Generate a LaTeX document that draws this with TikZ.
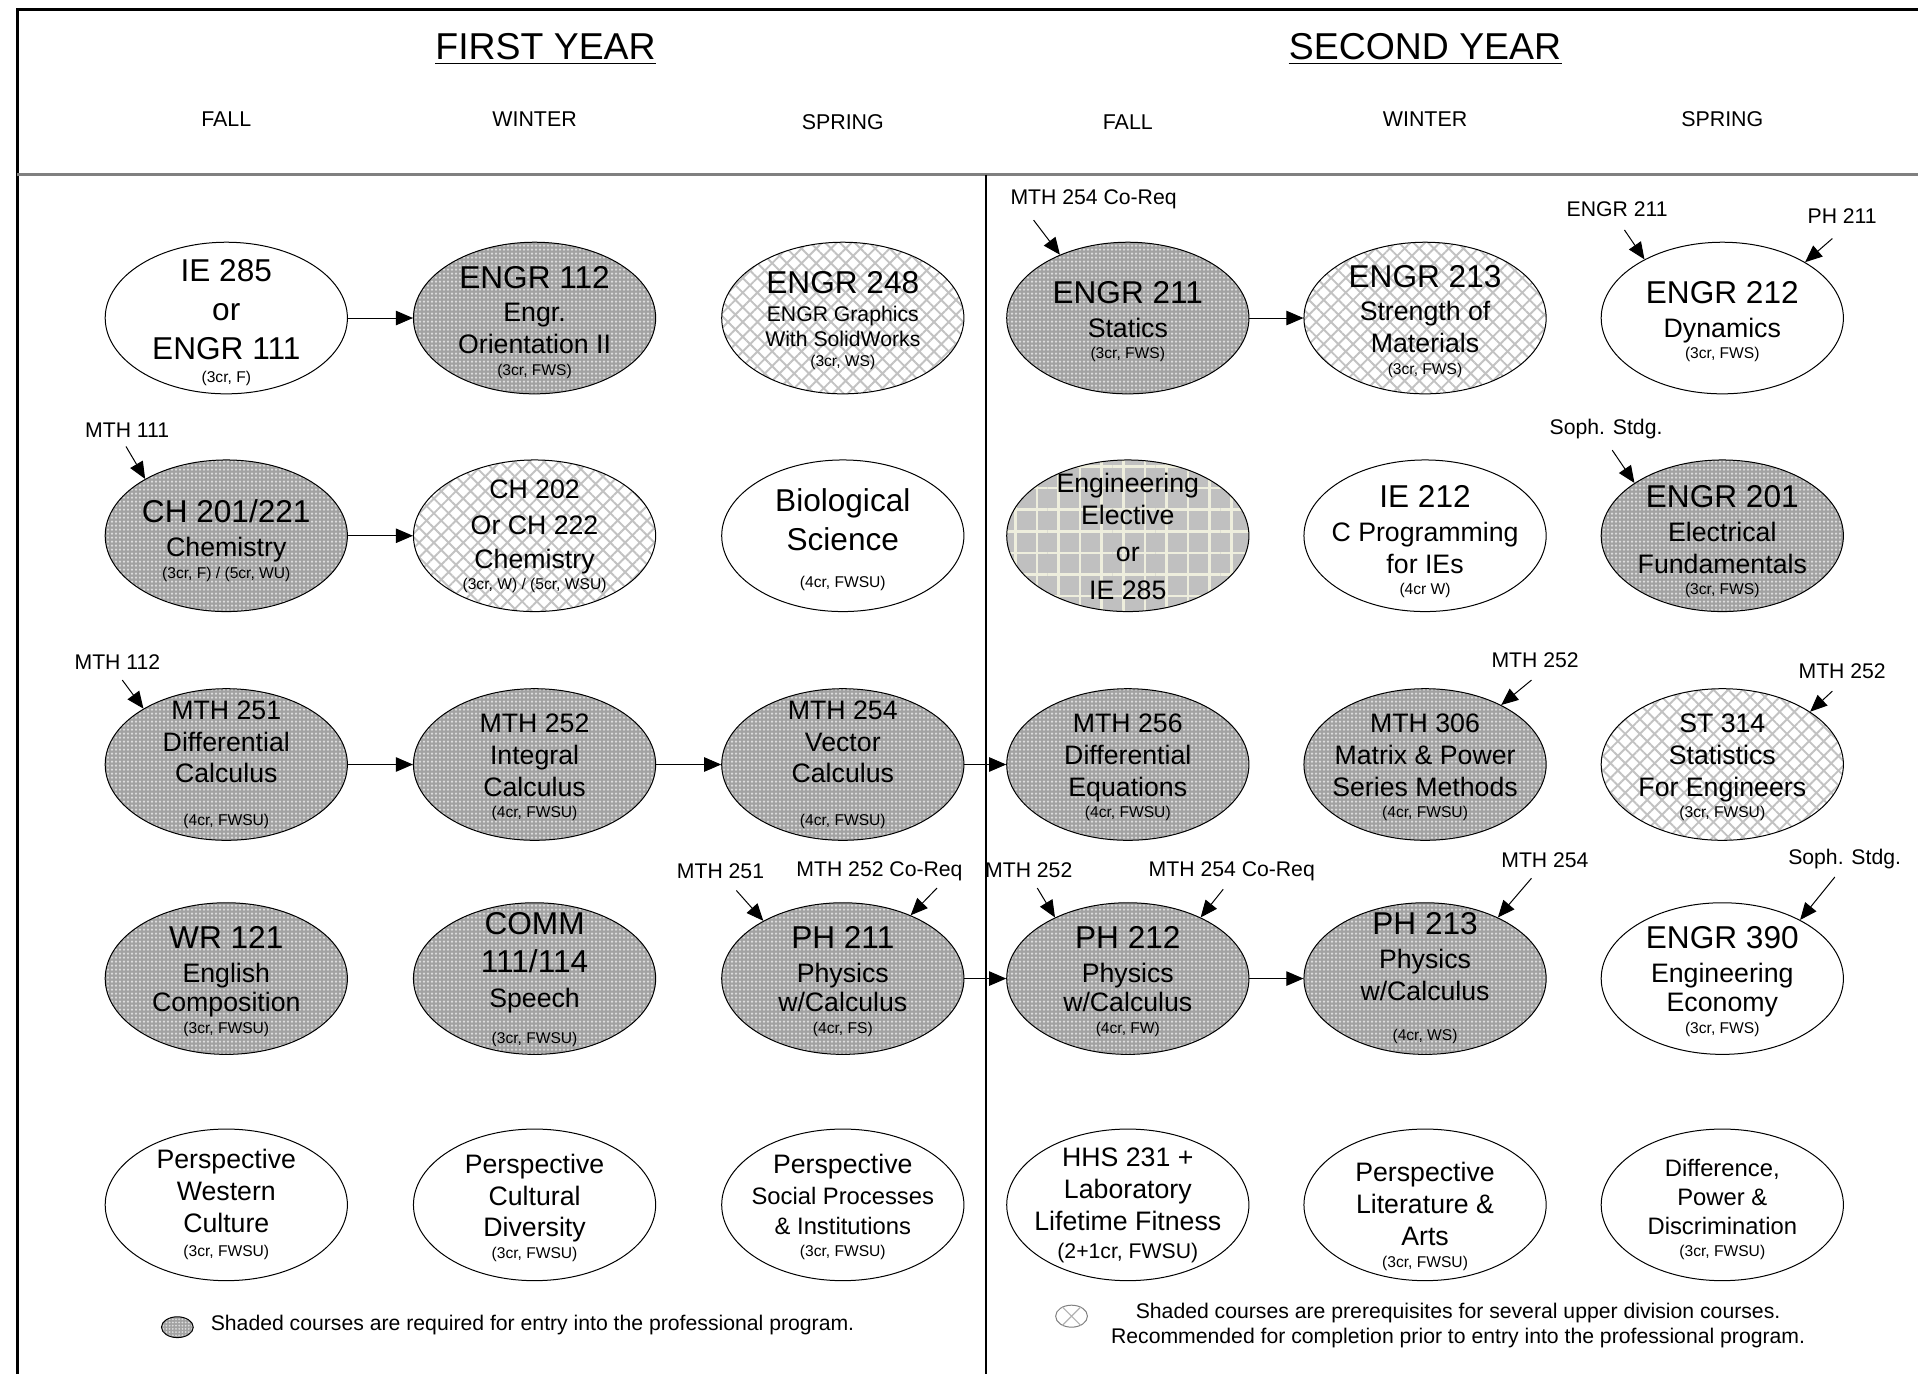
\documentclass[tikz,border=0pt]{standalone}
\usepackage{fontspec}
\setmainfont{Liberation Sans}
\usetikzlibrary{patterns.meta,arrows.meta,shapes.geometric}
\definecolor{dotbase}{HTML}{A2A2A2}
\definecolor{dotcol}{HTML}{DCDCDC}
\definecolor{hatchcol}{HTML}{C2C2C2}
\definecolor{gridbase}{HTML}{C0C0C0}
\definecolor{gridcol}{HTML}{EEEEDD}
\newcommand\fsL{\fontsize{15.8pt}{15.9pt}\selectfont}
\newcommand\fsM{\fontsize{13.35pt}{15.9pt}\selectfont}
\newcommand\fsK{\fontsize{11.9pt}{15.9pt}\selectfont}
\newcommand\fsG{\fontsize{10.6pt}{15.9pt}\selectfont}
\newcommand\fsS{\fontsize{7.8pt}{15.9pt}\selectfont}
\newcommand\fsH{\fontsize{18.7pt}{20pt}\selectfont}
\begin{document}
\begin{tikzpicture}[x=0.6116pt,y=-0.6116pt,
  course/.style={ellipse, draw, line width=0.5pt, minimum width=121.1pt, minimum height=75.8pt, inner sep=0pt},
  plain/.style={course, fill=white},
  req/.style={course, preaction={fill=dotbase}, pattern={Dots[distance=2pt, radius=0.62pt]}, pattern color=dotcol},
  prq/.style={course, preaction={fill=white}, pattern={Hatch[angle=45, distance=5.2pt, line width=0.95pt]}, pattern color=hatchcol},
  elect/.style={course, preaction={fill=gridbase}, pattern={Hatch[angle=0, distance=10.8pt, line width=1.3pt]}, pattern color=gridcol},
  txt/.style={align=center, inner sep=0pt, font=\fsM},
  lab/.style={font=\fsG, inner sep=0pt},
  season/.style={font=\fontsize{10.7pt}{12pt}\selectfont, inner sep=0pt},
  arr/.style={-{Triangle[length=8.5pt,width=7.2pt]}, line width=0.5pt}]
\useasboundingbox[fill=white] (0,0) rectangle (1568,1123);
% frame
\draw[line width=1.5pt] (14,1123) -- (14,8) -- (1568,8);
\draw[line width=1.5pt, gray] (14,143) -- (1568,143);
\draw[line width=0.7pt] (806,143) -- (806,1123);
% headers
\node[font=\fsH, inner sep=0pt, anchor=base] (h1) at (446,49) {FIRST YEAR};
\draw[line width=0.9pt] ([yshift=-1.8pt]h1.base west) -- ([yshift=-1.8pt]h1.base east);
\node[font=\fsH, inner sep=0pt, anchor=base] (h2) at (1165,49) {SECOND YEAR};
\draw[line width=0.9pt] ([yshift=-1.8pt]h2.base west) -- ([yshift=-1.8pt]h2.base east);
\node[season] (s1) at (185,97) {FALL};
\node[season] (s2) at (437,97) {WINTER};
\node[season] (s3) at (689,100) {SPRING};
\node[season] (s4) at (922,100) {FALL};
\node[season] (s5) at (1165,97) {WINTER};
\node[season] (s6) at (1408,97) {SPRING};
% row 1
\node[plain] (ie285) at (185,260) {};
\node[txt] (ie285t) at (185,264) {\fsL IE 285\\[3.4pt]\fsL or\\[3.4pt]\fsL ENGR 111\\[-4.1pt]\fsS (3cr, F)};
\node[req] (engr112) at (437,260) {};
\node[txt] (engr112t) at (437,263.5) {\fsL ENGR 112\\[0.9pt]\fsM Engr.\\\fsM Orientation II\\[-5.1pt]\fsS (3cr, FWS)};
\node[prq] (engr248) at (689,260) {};
\node[txt] (engr248t) at (689,262) {\fsL ENGR 248\\[-1.9pt]\fsG ENGR Graphics\\[-3.1pt]\fsG With SolidWorks\\[-5.9pt]\fsS (3cr, WS)};
\node[req] (engr211) at (922,260) {};
\node[txt] (engr211t) at (922,263) {\fsL ENGR 211\\[0.9pt]\fsM Statics\\[-5.1pt]\fsS (3cr, FWS)};
\node[prq] (engr213) at (1165,260) {};
\node[txt] (engr213t) at (1165,262.5) {\fsL ENGR 213\\[0.9pt]\fsM Strength of\\\fsM Materials\\[-5.1pt]\fsS (3cr, FWS)};
\node[plain] (engr212) at (1408,260) {};
\node[txt] (engr212t) at (1408,263) {\fsL ENGR 212\\[0.9pt]\fsM Dynamics\\[-5.1pt]\fsS (3cr, FWS)};
% row 2
\node[req] (ch201) at (185,438) {};
\node[txt] (ch201t) at (185,442) {\fsL CH 201/221\\[0.9pt]\fsM Chemistry\\[-5.1pt]\fsS (3cr, F) / (5cr, WU)};
\node[prq] (ch202) at (437,438) {};
\node[txt] (ch202t) at (437,438.5) {\fsM CH 202\\[2pt]\fsM Or CH 222\\[1pt]\fsM Chemistry\\[-5.1pt]\fsS (3cr, W) / (5cr, WSU)};
\node[plain] (bio) at (689,438) {};
\node[txt] (biot) at (689,441) {\fsL Biological\\[3.4pt]\fsL Science\\[2.6pt]\fsS (4cr, FWSU)};
\node[elect] (elective) at (922,438) {};
\node[txt] (electivet) at (922,438.5) {\fsM Engineering\\\fsM Elective\\[2.5pt]\fsM or\\[3pt]\fsM IE 285};
\node[plain] (ie212) at (1165,438) {};
\node[txt] (ie212t) at (1165,443) {\fsL IE 212\\[0.9pt]\fsM C Programming\\\fsM for IEs\\[-5.1pt]\fsS (4cr W)};
\node[req] (engr201) at (1408,438) {};
\node[txt] (engr201t) at (1408,443) {\fsL ENGR 201\\[0.9pt]\fsM Electrical\\\fsM Fundamentals\\[-5.1pt]\fsS (3cr, FWS)};
% row 3
\node[req] (mth251) at (185,625) {};
\node[txt] (mth251t) at (185,625) {\fsM MTH 251\\\fsM Differential\\\fsM Calculus\\[5.3pt]\fsS (4cr, FWSU)};
\node[req] (mth252) at (437,625) {};
\node[txt] (mth252t) at (437,627.5) {\fsM MTH 252\\\fsM Integral\\\fsM Calculus\\[-5.1pt]\fsS (4cr, FWSU)};
\node[req] (mth254) at (689,625) {};
\node[txt] (mth254t) at (689,625) {\fsM MTH 254\\\fsM Vector\\\fsM Calculus\\[5.3pt]\fsS (4cr, FWSU)};
\node[req] (mth256) at (922,625) {};
\node[txt] (mth256t) at (922,627.5) {\fsM MTH 256\\\fsM Differential\\\fsM Equations\\[-5.1pt]\fsS (4cr, FWSU)};
\node[req] (mth306) at (1165,625) {};
\node[txt] (mth306t) at (1165,627.5) {\fsM MTH 306\\\fsM Matrix \& Power\\\fsM Series Methods\\[-5.1pt]\fsS (4cr, FWSU)};
\node[prq] (st314) at (1408,625) {};
\node[txt] (st314t) at (1408,627.5) {\fsM ST 314\\\fsM Statistics\\\fsM For Engineers\\[-5.1pt]\fsS (3cr, FWSU)};
% row 4
\node[req] (wr121) at (185,800) {};
\node[txt] (wr121t) at (185,802.5) {\fsL WR 121\\[0.9pt]\fsM English\\[-1pt]\fsM Composition\\[-5.1pt]\fsS (3cr, FWSU)};
\node[req] (comm) at (437,800) {};
\node[txt] (commt) at (437,800.5) {\fsL COMM\\[3.4pt]\fsL 111/114\\[1.6pt]\fsM Speech\\[1.7pt]\fsS (3cr, FWSU)};
\node[req] (ph211) at (689,800) {};
\node[txt] (ph211t) at (689,802.5) {\fsL PH 211\\[0.9pt]\fsM Physics\\[-1pt]\fsM w/Calculus\\[-5.1pt]\fsS (4cr, FS)};
\node[req] (ph212) at (922,800) {};
\node[txt] (ph212t) at (922,802.5) {\fsL PH 212\\[0.9pt]\fsM Physics\\[-1pt]\fsM w/Calculus\\[-5.1pt]\fsS (4cr, FW)};
\node[req] (ph213) at (1165,800) {};
\node[txt] (ph213t) at (1165,799.5) {\fsL PH 213\\[0.9pt]\fsM Physics\\\fsM w/Calculus\\[4.1pt]\fsS (4cr, WS)};
\node[plain] (engr390) at (1408,800) {};
\node[txt] (engr390t) at (1408,802.5) {\fsL ENGR 390\\[0.9pt]\fsM Engineering\\[-1pt]\fsM Economy\\[-5.1pt]\fsS (3cr, FWS)};
% row 5
\node[plain] (persp1) at (185,985) {};
\node[txt] (persp1t) at (185,984.5) {\fsM Perspective\\\fsM Western\\\fsM Culture\\[-3.8pt]\fsS (3cr, FWSU)};
\node[plain] (persp2) at (437,985) {};
\node[txt] (persp2t) at (437,987.5) {\fsM Perspective\\\fsM Cultural\\\fsM Diversity\\[-5.1pt]\fsS (3cr, FWSU)};
\node[plain] (persp3) at (689,985) {};
\node[txt] (persp3t) at (689,986.5) {\fsM Perspective\\[-0.5pt]\fsK Social Processes\\[-0.6pt]\fsK \& Institutions\\[-5.2pt]\fsS (3cr, FWSU)};
\node[plain] (hhs) at (922,985) {};
\node[txt] (hhst) at (922,985.5) {\fsM HHS 231 +\\\fsM Laboratory\\\fsM Lifetime Fitness\\[-1.6pt]\fsG (2+1cr, FWSU)};
\node[plain] (persp4) at (1165,985) {};
\node[txt] (persp4t) at (1165,994.5) {\fsM Perspective\\\fsM Literature \&\\\fsM Arts\\[-5.1pt]\fsS (3cr, FWSU)};
\node[plain] (diff) at (1408,985) {};
\node[txt] (difft) at (1408,989) {\fsK Difference,\\[-1.5pt]\fsK Power \&\\[-1.5pt]\fsK Discrimination\\[-4.6pt]\fsS (3cr, FWSU)};
% sequence arrows
\draw[arr] (ie285.east) -- (engr112.west);
\draw[arr] (engr211.east) -- (engr213.west);
\draw[arr] (ch201.east) -- (ch202.west);
\draw[arr] (mth251.east) -- (mth252.west);
\draw[arr] (mth252.east) -- (mth254.west);
\draw[arr] (mth254.east) -- (mth256.west);
\draw[arr] (ph211.east) -- (ph212.west);
\draw[arr] (ph212.east) -- (ph213.west);
% prerequisite labels
\node[lab] (l1) at (894,163) {MTH 254 Co-Req};
\draw[arr] ([shift={(-49,17)}]l1.center) -- (engr211.137);
\node[lab] (l2) at (1322,171) {ENGR 211};
\draw[arr] ([shift={(6,17)}]l2.center) -- (engr212.143);
\node[lab] (l3) at (1506,177) {PH 211};
\draw[arr] ([shift={(-8,18)}]l3.center) -- (engr212.34);
\node[lab] (l4) at (1313,351) {Soph. Stdg.};
\draw[arr] ([shift={(5,17)}]l4.center) -- (engr201.149);
\node[lab] (l5) at (104,352) {MTH 111};
\draw[arr] ([shift={(-1,13)}]l5.center) -- (ch201.145);
\node[lab] (l6) at (96,541) {MTH 112};
\draw[arr] ([shift={(4,15)}]l6.center) -- (mth251.146);
\node[lab] (l7) at (1255,540) {MTH 252};
\draw[arr] ([shift={(-3,16)}]l7.center) -- (mth306.38);
\node[lab] (l8) at (1506,549) {MTH 252};
\draw[arr] ([shift={(-8,16)}]l8.center) -- (st314.31);
\node[lab] (l9) at (589,712) {MTH 251};
\draw[arr] ([shift={(13,16)}]l9.center) -- (ph211.144);
\node[lab] (l10) at (719,712) {MTH 252 Co-Req};
\draw[arr] ([shift={(47,14)}]l10.center) -- (ph211.43);
\node[lab] (l11) at (841,711) {MTH 252};
\draw[arr] ([shift={(7,15)}]l11.center) -- (ph212.140);
\node[lab] (l12) at (1007,712) {MTH 254 Co-Req};
\draw[arr] ([shift={(-7,15)}]l12.center) -- (ph212.40);
\node[lab] (l13) at (1263,703) {MTH 254};
\draw[arr] ([shift={(-11,15)}]l13.center) -- (ph213.40);
\node[lab] (l14) at (1508,702) {Soph. Stdg.};
\draw[arr] ([shift={(-8,15)}]l14.center) -- (engr390.37);
% legend
\node[ellipse, draw, line width=0.5pt, minimum width=15.9pt, minimum height=10.4pt, inner sep=0pt, preaction={fill=dotbase}, pattern={Dots[distance=1.6pt, radius=0.5pt]}, pattern color=dotcol] (leg1) at (145,1085) {};
\node[lab, anchor=west] (leg1t) at (172,1083) {Shaded courses are required for entry into the professional program.};
\node[ellipse, draw=gray, line width=0.5pt, minimum width=15.9pt, minimum height=11pt, inner sep=0pt, fill=white] (leg2) at (876,1076) {};
\draw[gray!60, line width=0.6pt] (leg2.45) -- (leg2.225) (leg2.135) -- (leg2.315);
\node[align=center, inner sep=0pt, font=\fontsize{10.6pt}{12.8pt}\selectfont] (leg2t) at (1192,1083.5) {Shaded courses are prerequisites for several upper division courses.\\Recommended for completion prior to entry into the professional program.};
\end{tikzpicture}
\end{document}
